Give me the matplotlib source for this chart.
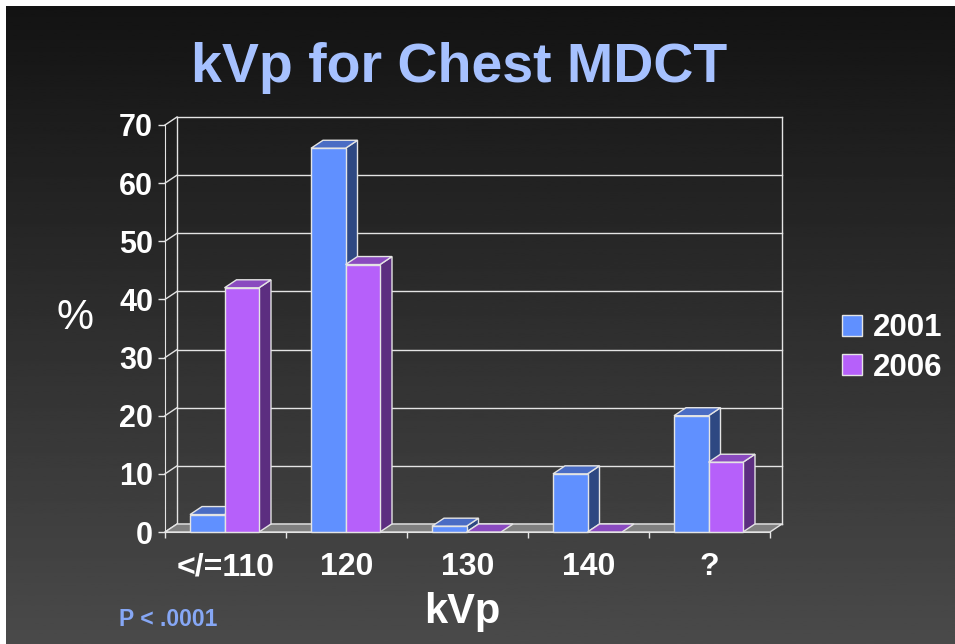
import numpy as np
import matplotlib.pyplot as plt
from matplotlib.patches import Polygon, Patch

plt.rcParams['font.family'] = ['Liberation Sans', 'DejaVu Sans']

# data
categories = ['</=110', '120', '130', '140', '?']
series = ['2001', '2006']
values_2001 = [3, 66, 1, 10, 20]
values_2006 = [42, 46, 0, 0, 12]
yticks = [0, 10, 20, 30, 40, 50, 60, 70]

front_col = ['#6090FF', '#B660FA']
top_col = ['#4A6CC4', '#8A4ABF']
side_col = ['#2E4882', '#5C2E80']
edge = '#E4E4E4'

W, H = 955, 644
fig = plt.figure(figsize=(W / 100, H / 100), dpi=100, facecolor='white')

# dark vertical gradient background (white strip left/top like the slide grab)
bg = fig.add_axes([6 / W, 0, 1 - 6 / W, 1 - 6 / H])
grad = np.linspace(0.075, 0.29, 256).reshape(-1, 1)
bg.imshow(grad, cmap='gray', vmin=0, vmax=1, aspect='auto',
          extent=[0, 1, 0, 1], origin='upper')
bg.axis('off')

# front plane of the 3d plot
ax = fig.add_axes([165 / W, (H - 532) / H, 605 / W, 407 / H])
ax.set_xlim(0, len(categories))
ax.set_ylim(0, 70)
ax.patch.set_visible(False)

n = len(categories)
DX = 12 / 121            # depth offset, category units
DY = 8 * 70 / 407        # depth offset, value units

# back wall and side wall lines
for y in yticks:
    ax.plot([DX, n + DX], [y + DY, y + DY], color=edge, lw=1, clip_on=False, zorder=1)
    ax.plot([0, DX], [y, y + DY], color=edge, lw=1, clip_on=False, zorder=1)
for xb in (DX, n + DX):
    ax.plot([xb, xb], [DY, 70 + DY], color=edge, lw=1, clip_on=False, zorder=1)

# floor
ax.add_patch(Polygon([(0, 0), (n, 0), (n + DX, DY), (DX, DY)], closed=True,
                     fc='#808080', ec=edge, lw=1, clip_on=False, zorder=2))

# bars
off = 25 / 121
bw = 34.5 / 121
z = 3
for i in range(n):
    for j, vals in enumerate([values_2001, values_2006]):
        v = vals[i]
        x0 = i + off + j * bw
        x1 = x0 + bw
        if v > 0:
            ax.add_patch(Polygon([(x1, 0), (x1 + DX, DY), (x1 + DX, v + DY), (x1, v)],
                                 fc=side_col[j], ec=edge, lw=1, clip_on=False, zorder=z))
        ax.add_patch(Polygon([(x0, v), (x1, v), (x1 + DX, v + DY), (x0 + DX, v + DY)],
                             fc=top_col[j], ec=edge, lw=1, clip_on=False, zorder=z))
        if v > 0:
            ax.add_patch(Polygon([(x0, 0), (x1, 0), (x1, v), (x0, v)],
                                 fc=front_col[j], ec=edge, lw=1, clip_on=False, zorder=z))
        z += 1

# axes, ticks
for s in ('top', 'right'):
    ax.spines[s].set_visible(False)
for s in ('left', 'bottom'):
    ax.spines[s].set_color(edge)
    ax.spines[s].set_zorder(z + 1)
ax.set_yticks(yticks)
ax.set_yticklabels([str(t) for t in yticks], fontsize=22, fontweight='bold', color='white')
ax.tick_params(axis='y', colors=edge, length=5, width=1, pad=3.6, labelcolor='white')
ax.set_xticks(range(n + 1))
ax.set_xticklabels([])
ax.set_xticks([i + 0.5 for i in range(n)], minor=True)
ax.set_xticklabels(categories, minor=True, fontsize=23, fontweight='bold', color='white')
ax.tick_params(axis='x', which='major', colors=edge, length=4.5, width=1)
ax.tick_params(axis='x', which='minor', length=0, pad=14.5, labelcolor='white')

# legend
handles = [Patch(fc=front_col[k], ec=edge, lw=1) for k in range(2)]
fig.legend(handles, series, loc='center left', bbox_to_anchor=(842 / W, 1 - 348 / H),
           frameon=False, borderpad=0, borderaxespad=0, handlelength=0.65,
           handleheight=0.65, handletextpad=0.33, labelspacing=0.3,
           prop={'size': 22.5, 'weight': 'bold'}, labelcolor='white')

# texts
fig.text(459 / W, 1 - 82 / H, 'kVp for Chest MDCT', fontsize=40, fontweight='bold',
         color='#A6C1FF', ha='center', va='baseline')
fig.text(75 / W, 1 - 318 / H, '%', fontsize=30, color='white', ha='center', va='center')
fig.text(462 / W, 1 - 623 / H, 'kVp', fontsize=30, fontweight='bold', color='white',
         ha='center', va='baseline')
fig.text(119 / W, 1 - 626 / H, 'P < .0001', fontsize=16.5, fontweight='bold',
         color='#86A7F5', ha='left', va='baseline')

fig.savefig('out.png', dpi=100, facecolor=fig.get_facecolor())
